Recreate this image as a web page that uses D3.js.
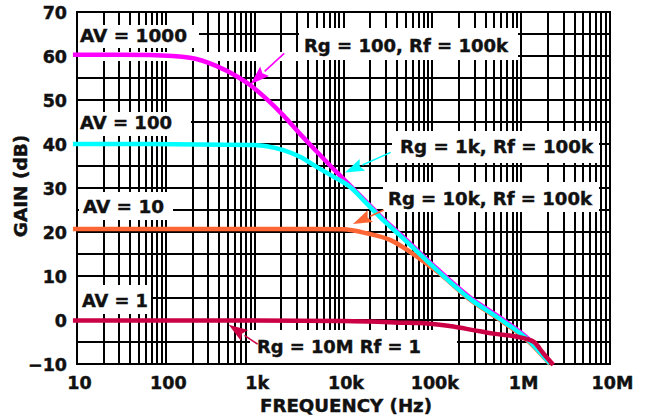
<!DOCTYPE html>
<html>
<head>
<meta charset="utf-8">
<script src="https://cdn.jsdelivr.net/npm/d3@7"></script>
<style>
  html, body { margin: 0; padding: 0; background: #fff; }
  svg { display: block; }
  text { font-family: "DejaVu Sans", Verdana, sans-serif; font-weight: bold; fill: #111; stroke: #111; stroke-width: 0.45px; }
</style>
</head>
<body>
<svg id="chart" width="648" height="419"></svg>
<script>
// ---------------- data ----------------
const freqTicks = [10, 100, 1e3, 1e4, 1e5, 1e6, 1e7];
const freqTickLabels = ["10", "100", "1k", "10k", "100k", "1M", "10M"];
const gainTicks = [-10, 0, 10, 20, 30, 40, 50, 60, 70];

// AV = 1000 (Rg = 100, Rf = 100k)
const av1000Freq = [9, 30, 66, 187, 374, 628, 887, 1368, 2100, 3236, 4990, 8375, 11800, 18200, 28000, 45000, 112000, 266000, 600000, 1160000, 2110000];
const av1000Gain = [60.3, 60.3, 60.2, 59.6, 57.7, 55.4, 53.4, 50.2, 46.5, 42.3, 38.3, 33.6, 30.6, 26.8, 23.0, 19.2, 11.7, 5.1, 0.3, -4.0, -9.7];

// AV = 100 (Rg = 1k, Rf = 100k)
const av100Freq = [9, 66, 887, 1368, 2100, 3236, 4990, 7670, 11800, 18200, 28000, 45000, 112000, 266000, 600000, 1160000, 2110000];
const av100Gain = [40.0, 40.0, 39.8, 39.5, 38.6, 37.1, 34.8, 32.6, 30.3, 26.5, 22.7, 18.9, 11.4, 4.8, 0.0, -4.3, -9.9];

// AV = 10 (Rg = 10k, Rf = 100k)
const av10Freq = [9, 66, 4990, 9860, 18200, 33400, 56100, 94200, 112000, 266000, 600000, 1160000, 2110000];
const av10Gain = [20.7, 20.7, 20.7, 20.6, 19.7, 18.2, 15.5, 12.2, 11.1, 4.6, -0.2, -4.5, -10.0];

// AV = 1 (Rg = 10M, Rf = 1)
const av1Freq = [9, 1000, 10000, 20000, 43000, 72600, 172000, 289000, 486000, 891000, 1370000, 1780000, 2300000];
const av1Gain = [-0.1, -0.1, -0.2, -0.35, -0.6, -0.7, -1.5, -2.3, -3.1, -3.8, -4.9, -7.6, -10.2];

const seriesNames = ["AV = 1000", "AV = 100", "AV = 10", "AV = 1"];
const seriesNotes = ["Rg = 100, Rf = 100k", "Rg = 1k, Rf = 100k", "Rg = 10k, Rf = 100k", "Rg = 10M Rf = 1"];
const seriesColors = ["#ff00ff", "#00ffff", "#ff6633", "#cc0044"];
// annotation arrow endpoints: [fromFreq, fromGain, tipFreq, tipGain]
const arrowAnchors = [
  [2150, 60.6, 900, 53.6],
  [34000, 38.1, 10400, 33.5],
  [28500, 25.0, 12800, 21.8],
  [1080, -5.5, 510, -1.1]
];

// ---------------- layout ----------------
const L = 77, R = 610, T = 12, B = 364;
const svg = d3.select("#chart");

const x = d3.scaleLog().domain([10, 1e7]).range([L, R]);
const y = d3.scaleLinear().domain([-10, 70]).range([B, T]);
const xg = x.copy().interpolate(d3.interpolateRound);
const yg = y.copy().interpolate(d3.interpolateRound);

// grid values
const gridFreq = [];
for (let k = 1; k <= 6; k++) for (let m = 1; m <= 9; m++) gridFreq.push(m * Math.pow(10, k));
gridFreq.push(1e7);
const gridGain = d3.range(-10, 70.1, 5);

// vertical grid
svg.append("g")
  .attr("transform", `translate(0,${B})`)
  .call(d3.axisBottom(xg).tickValues(gridFreq).tickSize(-(B - T)).tickFormat("").offset(0))
  .call(g => g.select(".domain").remove())
  .call(g => g.selectAll("line").attr("stroke", "#000").attr("stroke-width", 2));

// horizontal grid
svg.append("g")
  .attr("transform", `translate(${L},0)`)
  .call(d3.axisLeft(yg).tickValues(gridGain).tickSize(-(R - L)).tickFormat("").offset(0))
  .call(g => g.select(".domain").remove())
  .call(g => g.selectAll("line").attr("stroke", "#000").attr("stroke-width", 2));

// frame
svg.append("rect").attr("x", L).attr("y", T).attr("width", R - L).attr("height", B - T)
  .attr("fill", "none").attr("stroke", "#000").attr("stroke-width", 2);

// white band along 60 dB on the left
svg.append("rect").attr("x", L + 2).attr("y", y(60) - 4).attr("width", 222).attr("height", 9).attr("fill", "#fff");

// label boxes (white)
const boxes = [
  [L + 1, 25, 121, 23],
  [L + 1, 112, 113, 24],
  [79, 192, 94, 28],
  [L + 1, 285, 73, 29],
  [299, 28, 219, 32],
  [392, 131, 207, 32],
  [383, 182, 216, 30],
  [250, 330, 207, 33]
];
svg.append("g").selectAll("rect").data(boxes).join("rect")
  .attr("x", d => d[0]).attr("y", d => d[1]).attr("width", d => d[2]).attr("height", d => d[3])
  .attr("fill", "#fff");

// curves
const line = d3.line().x(d => x(d[0])).y(d => y(d[1])).curve(d3.curveMonotoneX);
const curves = [
  d3.zip(av1000Freq, av1000Gain),
  d3.zip(av100Freq, av100Gain),
  d3.zip(av10Freq, av10Gain),
  d3.zip(av1Freq, av1Gain)
];
const drawOrder = [0, 2, 1, 3];
svg.append("g").selectAll("path").data(drawOrder).join("path")
  .attr("d", i => line(curves[i]))
  .attr("fill", "none")
  .attr("stroke", i => seriesColors[i])
  .attr("stroke-width", 4.5)
  .attr("stroke-linejoin", "round");

// arrows
const arrowG = svg.append("g");
arrowAnchors.forEach((a, i) => {
  const x0 = x(a[0]), y0 = y(a[1]), x1 = x(a[2]), y1 = y(a[3]);
  const dx = x1 - x0, dy = y1 - y0, len = Math.hypot(dx, dy);
  const ux = dx / len, uy = dy / len;
  const hl = 19, hw = 6.5;
  const bx = x1 - ux * hl, by = y1 - uy * hl;
  arrowG.append("line").attr("x1", x0).attr("y1", y0).attr("x2", bx).attr("y2", by)
    .attr("stroke", seriesColors[i]).attr("stroke-width", 1.6);
  arrowG.append("path")
    .attr("d", `M${x1},${y1}L${bx - uy * hw},${by + ux * hw}L${bx + ux * 3},${by + uy * 3}L${bx + uy * hw},${by - ux * hw}Z`)
    .attr("fill", seriesColors[i]);
});

// series labels
const fs = 18.5;
const avPos = [[80, 41.5], [80, 128.5], [83, 212.5], [82, 306.5]];
const avWidths = [107, 92, 81, 66];
svg.append("g").selectAll("text").data(seriesNames).join("text")
  .attr("x", (d, i) => avPos[i][0]).attr("y", (d, i) => avPos[i][1])
  .attr("textLength", (d, i) => avWidths[i]).attr("lengthAdjust", "spacingAndGlyphs")
  .attr("font-size", fs).text(d => d);

const notePos = [[304, 52], [400, 153], [388, 205], [257, 353]];
const noteWidths = [204, 193, 204, 164];
svg.append("g").selectAll("text").data(seriesNotes).join("text")
  .attr("x", (d, i) => notePos[i][0]).attr("y", (d, i) => notePos[i][1])
  .attr("textLength", (d, i) => noteWidths[i]).attr("lengthAdjust", "spacingAndGlyphs")
  .attr("font-size", fs).text(d => d);

// x tick labels
svg.append("g")
  .attr("transform", `translate(2,${B})`)
  .call(d3.axisBottom(x).tickValues(freqTicks).tickSize(0).tickPadding(0)
    .tickFormat((d, i) => freqTickLabels[i]))
  .call(g => g.select(".domain").remove())
  .call(g => g.selectAll("text").attr("dy", null).attr("y", 25).attr("font-size", 17.5)
    .attr("font-family", "DejaVu Sans").attr("font-weight", "bold").attr("fill", "#111"));

// y tick labels
svg.append("g")
  .attr("transform", `translate(67,0)`)
  .call(d3.axisLeft(y).tickValues(gainTicks).tickSize(0).tickPadding(0).tickFormat(d3.format("d")))
  .call(g => g.select(".domain").remove())
  .call(g => g.selectAll("text").attr("dy", "0.36em").attr("x", 0).attr("font-size", 17.5)
    .attr("font-family", "DejaVu Sans").attr("font-weight", "bold").attr("fill", "#111"));

// axis titles
svg.append("text").attr("x", 346).attr("y", 412).attr("text-anchor", "middle")
  .attr("font-size", fs).attr("textLength", 172).attr("lengthAdjust", "spacingAndGlyphs")
  .text("FREQUENCY (Hz)");
svg.append("text").attr("transform", "translate(27,186) rotate(-90)").attr("text-anchor", "middle")
  .attr("font-size", fs).text("GAIN (dB)");
</script>
</body>
</html>
